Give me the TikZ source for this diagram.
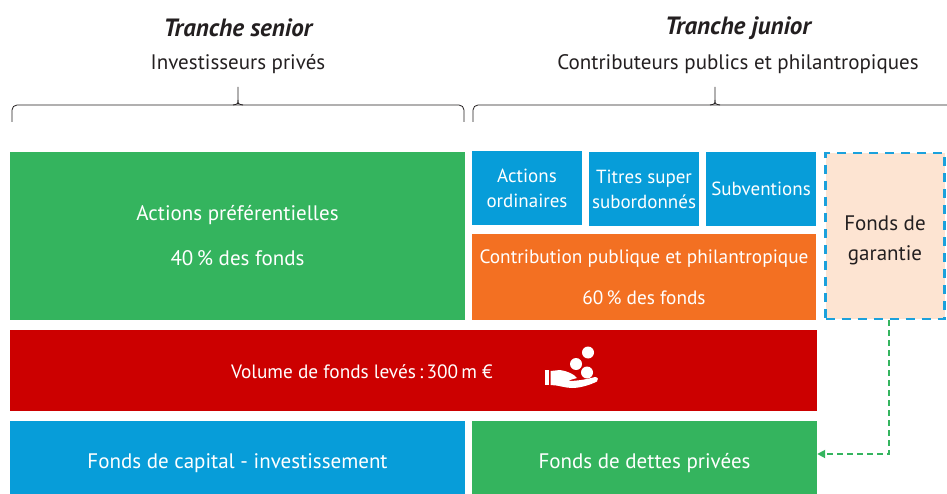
\documentclass[tikz,border=0pt]{standalone}
\usepackage{fontspec}
\setmainfont{PT Sans}
\usetikzlibrary{arrows.meta}
\definecolor{cgreen}{HTML}{34B45E}
\definecolor{cblue}{HTML}{079DD9}
\definecolor{corange}{HTML}{F37022}
\definecolor{cred}{HTML}{CC0000}
\definecolor{cpeach}{HTML}{FDE4D2}
\definecolor{cdash}{HTML}{1BA1DC}
\definecolor{ctext}{HTML}{231F20}
\tikzset{
  blk/.style={inner sep=0pt, text=white, align=center, font=\fontsize{21}{24}\selectfont},
  smallblk/.style={blk, fill=cblue, font=\fontsize{19}{25}\selectfont},
  brace/.style={draw=ctext, line width=0.8pt, rounded corners=5pt},
  head/.style={font=\fontsize{25}{28}\selectfont\bfseries\itshape, text=ctext},
  sub/.style={font=\fontsize{21}{24}\selectfont, text=ctext},
}
\begin{document}
\begin{tikzpicture}[x=1pt,y=-1pt]
\useasboundingbox (0,0) rectangle (947,494);
% headers
\node[head] (ths) at (238,28) {Tranche senior};
\node[sub] (ips) at (238,64) {Investisseurs privés};
\node[head] (thj) at (738,28) {Tranche junior};
\node[sub] (cpp) at (738,64) {Contributeurs publics et philantropiques};
% braces
\draw[brace] (12,122) -- (12,105) -- (238,105) -- (464,105) -- (464,122);
\draw[line width=0.8pt, draw=ctext] (238,87) -- (238,100) .. controls (238,104) .. (233,105);
\draw[line width=0.8pt, draw=ctext] (238,100) .. controls (238,104) .. (243,105);
\draw[brace] (473,122) -- (473,105) -- (715,105) -- (960,105);
\draw[line width=0.8pt, draw=ctext] (715,87) -- (715,100) .. controls (715,104) .. (710,105);
\draw[line width=0.8pt, draw=ctext] (715,100) .. controls (715,104) .. (720,105);
% boxes
\node[blk, fill=cgreen, minimum width=455pt, minimum height=168pt, font=\fontsize{21}{45}\selectfont] (ap) at (237.5,236) {Actions préférentielles\\40\,\% des fonds};
\node[smallblk, minimum width=110pt, minimum height=74pt] (ao) at (527,188) {Actions\\ordinaires};
\node[smallblk, minimum width=110pt, minimum height=74pt] (ts) at (644,189) {Titres super\\subordonnés};
\node[smallblk, minimum width=110pt, minimum height=74pt] (sv) at (761,189) {Subventions};
\node[blk, fill=corange, minimum width=344pt, minimum height=86pt, font=\fontsize{19.3}{41}\selectfont] (cp) at (644,277) {Contribution publique et philantropique\\60\,\% des fonds};
\node[blk, fill=cpeach, draw=cdash, line width=2.2pt, dash pattern=on 9pt off 7pt, minimum width=119pt, minimum height=166pt] (fg) at (885,236) {};
\node[blk, text=ctext, font=\fontsize{21}{30}\selectfont] (fgt) at (885,240) {Fonds de\\garantie};
\node[blk, fill=cred, minimum width=807pt, minimum height=81pt] (vf) at (413.5,370.5) {};
\node[blk, font=\fontsize{19.3}{22}\selectfont] (vft) at (362,372) {Volume de fonds levés\,:\,300\,m €};
\node[blk, fill=cblue, minimum width=455pt, minimum height=84pt, font=\fontsize{21}{24}\selectfont] (fc) at (237.5,463) {Fonds de capital - investissement};
\node[blk, fill=cgreen, minimum width=345pt, minimum height=84pt, font=\fontsize{21}{24}\selectfont] (fd) at (644.5,463) {Fonds de dettes privées};
% hand icon
\fill[white] (588,352.5) circle (6);
\fill[white] (576,364) circle (6);
\fill[white] (587,372.5) circle (6);
\fill[white] (545,370) rectangle (549,385);
\fill[white] (550.5,371) -- (560,370) .. controls (567,371) and (574,374) .. (577,378)
  -- (570,380) -- (568,381) .. controls (578,381) and (588,379) .. (595,377)
  .. controls (598,377) and (599,380) .. (597,381.5)
  .. controls (590,385) and (580,388) .. (572,388)
  .. controls (565,388) and (558,385) .. (550.5,385) -- cycle;
% arrow
\coordinate (fgb) at (889,320);
\draw[cgreen, line width=1.8pt, dash pattern=on 6pt off 4pt, -{Triangle[length=8pt,width=8pt]}] (fg.south -| fgb) -- (889,454) -- (fd.east |- 0,454);
\end{tikzpicture}
\end{document}
